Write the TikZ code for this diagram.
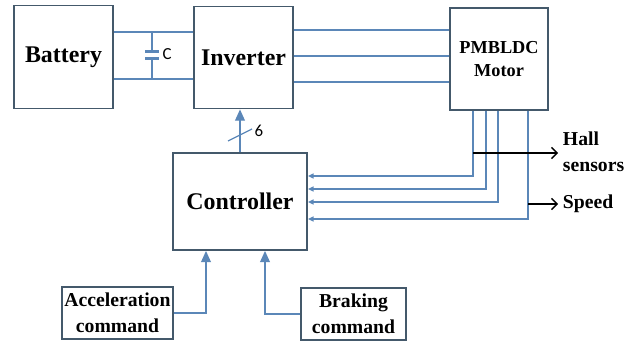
\documentclass[tikz,border=0pt]{standalone}
\usepackage{fontspec}
\setmainfont{Liberation Serif}
\newfontfamily\calfont{Carlito}
\usetikzlibrary{arrows.meta}
\definecolor{boxline}{HTML}{44596B}
\definecolor{wireblue}{HTML}{5B87B8}

\begin{document}
\begin{tikzpicture}[x=0.025cm,y=-0.025cm,
  blk/.style={draw=boxline,line width=1.3pt,inner sep=0pt,align=center,font=\bfseries},
  big/.style={font=\bfseries\fontsize{17}{20}\selectfont},
  mid/.style={font=\bfseries\fontsize{14}{18.5}\selectfont},
  wire/.style={draw=wireblue,line width=0.9pt},
  sig/.style={wire,-{Triangle[width=7pt,length=8pt]}},
  fb/.style={wire,-{Triangle[width=3.5pt,length=4pt]}},
  outarr/.style={black,line width=0.9pt,-{Straight Barb[length=4pt,width=8pt]}}]
  \useasboundingbox (0,0) rectangle (636,341);
  % blocks
  \node[blk,big,minimum width=2.475cm,minimum height=2.575cm] (bat) at (63.5,57) {Battery};
  \node[blk,big,minimum width=2.475cm,minimum height=2.55cm] (inv) at (243.5,57.5) {Inverter};
  \node[blk,font=\bfseries\fontsize{13}{17}\selectfont,minimum width=2.45cm,minimum height=2.55cm] (mot) at (499,59) {PMBLDC\\Motor};
  \node[blk,big,minimum width=3.35cm,minimum height=2.425cm] (ctrl) at (240,201.5) {Controller};
  \node[blk,mid,minimum width=2.775cm,minimum height=1.3cm] (acc) at (117.5,313) {Acceleration\\command};
  \node[blk,mid,minimum width=2.625cm,minimum height=1.3cm] (brk) at (353.5,314) {Braking\\command};
  % dc link with capacitor
  \coordinate (ctop) at (152,32);
  \coordinate (cbot) at (152,79);
  \draw[wire] (bat.east |- ctop) -- (inv.west |- ctop);
  \draw[wire] (bat.east |- cbot) -- (inv.west |- cbot);
  \draw[wire] (ctop) -- (152,51.5) (152,58.5) -- (cbot);
  \draw[wire,line width=1.5pt] (145,51.5) -- (159,51.5) (145,58.5) -- (159,58.5);
  \node[font=\calfont\fontsize{12}{14}\selectfont] (clbl) at (167,54) {C};
  % three phases
  \foreach \y in {30,56,82}
    \draw[wire] (inv.east |- 0,\y) -- (mot.west |- 0,\y);
  % gate signals
  \draw[sig] (ctrl.north) -- (ctrl.north |- inv.south);
  \draw[wire] (228,141) -- (252,129);
  \node[font=\calfont\fontsize{12}{14}\selectfont] (nsw) at (259,131) {6};
  % feedback from motor
  \foreach \x/\y in {473/176,486/189,498/202,528/219}
    \draw[fb] (mot.south -| \x,0) |- (ctrl.east |- 0,\y);
  \coordinate (hall) at (473,153);
  \coordinate (spd) at (528,204);
  \node[mid,anchor=west,align=left] (hlbl) at (558,152) {Hall\\sensors};
  \node[mid,anchor=west] (slbl) at (558,204) {Speed};
  \draw[outarr] (hall) -- (hlbl.west |- hall);
  \draw[outarr] (spd) -- (slbl.west);
  % commands
  \draw[sig] (acc.east) -| (ctrl.south -| 206,0);
  \draw[sig] (brk.west) -| (ctrl.south -| 265,0);
\end{tikzpicture}
\end{document}
